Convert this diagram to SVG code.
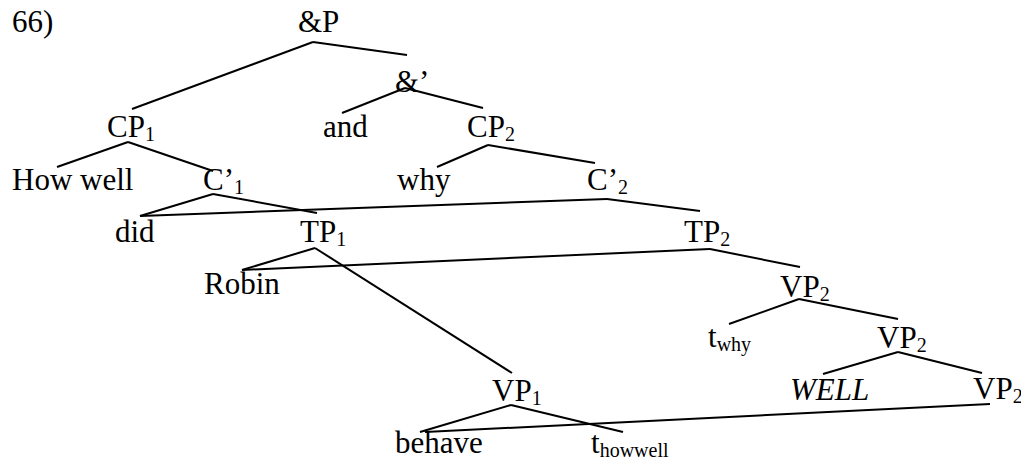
<svg xmlns="http://www.w3.org/2000/svg" width="1021" height="461" viewBox="0 0 1021 461">
<style>
.t text{font-size:31px;fill:#000}
.sub{font-size:20px}
.it{font-style:italic}
#connectors line{stroke:#000;stroke-width:2;stroke-linecap:butt}
</style>
<rect width="1021" height="461" fill="#fff"/>
<g id="connectors">
<line x1="313" y1="42" x2="132" y2="109"/>
<line x1="313" y1="42" x2="407" y2="55"/>
<line x1="405" y1="88" x2="342" y2="113"/>
<line x1="405" y1="88" x2="483" y2="108"/>
<line x1="128" y1="142" x2="57" y2="167"/>
<line x1="128" y1="142" x2="213" y2="171"/>
<line x1="488" y1="145" x2="437" y2="167"/>
<line x1="488" y1="145" x2="595" y2="163"/>
<line x1="213" y1="194" x2="140" y2="216"/>
<line x1="213" y1="194" x2="317" y2="213"/>
<line x1="607" y1="199" x2="140" y2="216"/>
<line x1="607" y1="199" x2="700" y2="211"/>
<line x1="315" y1="248" x2="242" y2="270"/>
<line x1="315" y1="248" x2="512" y2="373"/>
<line x1="710" y1="249" x2="242" y2="270"/>
<line x1="710" y1="249" x2="800" y2="267"/>
<line x1="799" y1="299" x2="729" y2="324"/>
<line x1="799" y1="299" x2="898" y2="319"/>
<line x1="898" y1="352" x2="823" y2="374"/>
<line x1="898" y1="352" x2="982" y2="373"/>
<line x1="511" y1="405" x2="420" y2="432"/>
<line x1="511" y1="405" x2="623" y2="432"/>
<line x1="990" y1="404" x2="425" y2="432"/>
</g>
<g class="t" font-family="Liberation Serif">
<g id="label66"><text x="12" y="32">66)</text></g>
<g id="andP"><text x="298" y="32">&amp;P</text></g>
<g id="andBar"><text x="395" y="92">&amp;’</text></g>
<g id="CP1"><text x="107" y="137">CP<tspan class="sub" dy="4">1</tspan></text></g>
<g id="and"><text x="323" y="137">and</text></g>
<g id="CP2"><text x="467" y="137">CP<tspan class="sub" dy="4">2</tspan></text></g>
<g id="HowWell"><text x="12" y="190">How well</text></g>
<g id="C1"><text x="203" y="190">C’<tspan class="sub" dy="4">1</tspan></text></g>
<g id="why"><text x="397" y="190">why</text></g>
<g id="C2"><text x="587" y="190">C’<tspan class="sub" dy="4">2</tspan></text></g>
<g id="did"><text x="115" y="242">did</text></g>
<g id="TP1"><text x="300" y="242">TP<tspan class="sub" dy="4">1</tspan></text></g>
<g id="TP2"><text x="684" y="242">TP<tspan class="sub" dy="4">2</tspan></text></g>
<g id="Robin"><text x="204" y="294">Robin</text></g>
<g id="VP2a"><text x="780" y="297">VP<tspan class="sub" dy="4">2</tspan></text></g>
<g id="twhy"><text x="708" y="347">t<tspan class="sub" dy="4">why</tspan></text></g>
<g id="VP2b"><text x="877" y="348">VP<tspan class="sub" dy="4">2</tspan></text></g>
<g id="WELL"><text class="it" x="790" y="400">WELL</text></g>
<g id="VP2c"><text x="973" y="399">VP<tspan class="sub" dy="4">2</tspan></text></g>
<g id="VP1"><text x="492" y="401">VP<tspan class="sub" dy="4">1</tspan></text></g>
<g id="behave"><text x="395" y="453">behave</text></g>
<g id="thowwell"><text x="591" y="453">t<tspan class="sub" dy="4">howwell</tspan></text></g>
</g>
</svg>
